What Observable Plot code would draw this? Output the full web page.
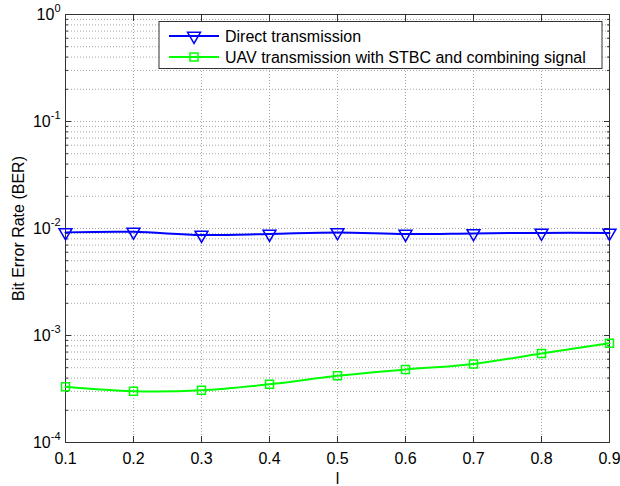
<!DOCTYPE html>
<html>
<head>
<meta charset="utf-8">
<script src="https://cdn.jsdelivr.net/npm/d3@7"></script>
<script src="https://cdn.jsdelivr.net/npm/@observablehq/plot@0.6"></script>
<style>
  html, body { margin: 0; padding: 0; background: #fff; }
  #chart { width: 620px; height: 486px; }
  svg { font-family: "Liberation Sans", Arial, sans-serif; }
</style>
</head>
<body>
<div id="chart"></div>
<script>
// ---- data ----
const xValues = [0.1, 0.2, 0.3, 0.4, 0.5, 0.6, 0.7, 0.8, 0.9];
const directBER = [0.0092, 0.0093, 0.0087, 0.0089, 0.0092, 0.0089, 0.0090, 0.0091, 0.0091];
const uavBER = [0.000332, 0.000302, 0.000308, 0.000350, 0.000420, 0.000481, 0.000542, 0.000680, 0.000845];
const seriesNames = ["Direct transmission", "UAV transmission with STBC and combining signal"];
const seriesColors = ["#0000ff", "#00ff00"];
const xTicks = [0.1, 0.2, 0.3, 0.4, 0.5, 0.6, 0.7, 0.8, 0.9];
const yExponents = [-4, -3, -2, -1, 0];
const yLabel = "Bit Error Rate (BER)";
const xLabel = "l";

const direct = xValues.map((x, i) => ({x, y: directBER[i]}));
const uav = xValues.map((x, i) => ({x, y: uavBER[i]}));
const yMajor = yExponents.map(e => Math.pow(10, e));
const yMinor = [];
for (const e of yExponents.slice(0, -1)) for (let m = 2; m <= 9; m++) yMinor.push(m * Math.pow(10, e));
const yAll = yMajor.concat(yMinor);

const gridStyle = {stroke: "#888", strokeOpacity: 0.75, strokeDasharray: "1,2"};
const blank = () => "";

const plot = Plot.plot({
  width: 620,
  height: 486,
  marginLeft: 65,
  marginRight: 11,
  marginTop: 14,
  marginBottom: 44,
  style: {fontFamily: "Liberation Sans, Arial, sans-serif", fontSize: "16px", background: "#fff"},
  x: {domain: [0.1, 0.9]},
  y: {type: "log", domain: [1e-4, 1]},
  marks: [
    Plot.gridX(xTicks, gridStyle),
    Plot.gridY(yAll, gridStyle),
    // inward ticks
    Plot.axisX(xTicks, {anchor: "bottom", tickSize: -6, tickFormat: blank, label: null, stroke: "#333"}),
    Plot.axisX(xTicks, {anchor: "top", tickSize: -6, tickFormat: blank, label: null, stroke: "#333"}),
    Plot.axisY(yMajor, {anchor: "left", tickSize: -6, tickFormat: blank, label: null, stroke: "#333"}),
    Plot.axisY(yMajor, {anchor: "right", tickSize: -6, tickFormat: blank, label: null, stroke: "#333"}),
    Plot.axisY(yMinor, {anchor: "left", tickSize: -3, tickFormat: blank, label: null, stroke: "#333"}),
    Plot.axisY(yMinor, {anchor: "right", tickSize: -3, tickFormat: blank, label: null, stroke: "#333"}),
    // labels
    Plot.axisX(xTicks, {anchor: "bottom", tickSize: 0, tickPadding: 10, tickFormat: d => d.toFixed(1), fill: "#000",
      label: xLabel, labelAnchor: "center", labelArrow: "none", labelOffset: 41, fontSize: 16}),
    Plot.axisY(yMajor, {anchor: "left", tickSize: 0, tickPadding: 5, tickFormat: d => String(Math.round(Math.log10(d))), fill: "#000",
      label: yLabel, labelAnchor: "center", labelArrow: "none", labelOffset: 53, fontSize: 16}),
    Plot.frame({stroke: "#333"}),
    Plot.line(direct, {x: "x", y: "y", stroke: seriesColors[0], strokeWidth: 2, curve: "catmull-rom"}),
    Plot.dot(direct, {x: "x", y: "y", symbol: "triangle", rotate: 180, r: 4.8, stroke: seriesColors[0], strokeWidth: 1.5, fill: "none"}),
    Plot.line(uav, {x: "x", y: "y", stroke: seriesColors[1], strokeWidth: 2, curve: "catmull-rom"}),
    Plot.dot(uav, {x: "x", y: "y", symbol: "square", r: 4.5, stroke: seriesColors[1], strokeWidth: 1.5, fill: "none"})
  ]
});

document.getElementById("chart").appendChild(plot);

// Render y tick labels as 10 with superscript exponent
const svg = d3.select(plot);
svg.selectAll("g[aria-label='y-axis tick label'] text").each(function() {
  const t = d3.select(this);
  const exp = t.text();
  if (!/^-?\d+$/.test(exp)) return;
  t.text(null);
  t.append("tspan").text("10");
  t.append("tspan").attr("dy", "-0.65em").attr("font-size", "11px").text(exp);
});

// Legend box (inside plot, top right)
const lg = svg.append("g").attr("class", "legend");
lg.append("rect").attr("x", 159).attr("y", 21.5).attr("width", 443).attr("height", 47)
  .attr("fill", "#fff").attr("stroke", "#333").attr("stroke-width", 1);
seriesNames.forEach((name, i) => {
  const cy = 36 + i * 21;
  lg.append("line").attr("x1", 169).attr("x2", 219).attr("y1", cy).attr("y2", cy)
    .attr("stroke", seriesColors[i]).attr("stroke-width", 2);
  if (i === 0) {
    const s = 4.8;
    lg.append("path").attr("d", d3.symbol(d3.symbolTriangle, Math.PI * s * s)())
      .attr("transform", `translate(194,${cy}) rotate(180)`)
      .attr("fill", "none").attr("stroke", seriesColors[i]).attr("stroke-width", 1.5);
  } else {
    lg.append("rect").attr("x", 194 - 4).attr("y", cy - 4).attr("width", 8).attr("height", 8)
      .attr("fill", "none").attr("stroke", seriesColors[i]).attr("stroke-width", 1.5);
  }
  lg.append("text").attr("x", 225).attr("y", cy).attr("dy", "0.35em")
    .attr("text-anchor", "start").attr("font-size", 16).attr("fill", "#000").text(name);
});
</script>
</body>
</html>
